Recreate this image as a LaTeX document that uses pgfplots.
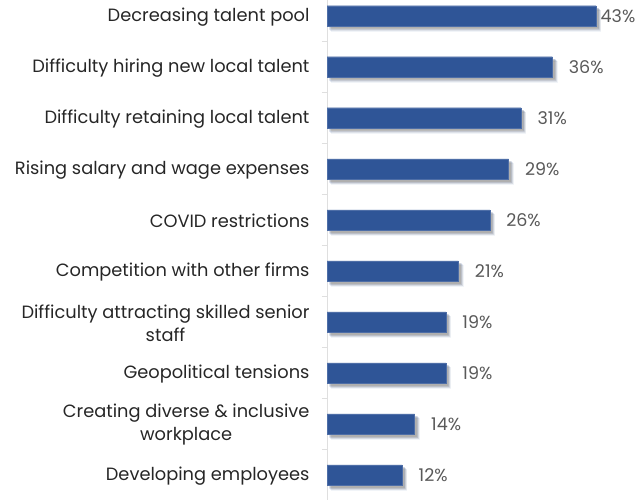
\documentclass[border=0pt]{standalone}
\usepackage{pgfplots}
\pgfplotsset{compat=1.18}
\usepackage{pgfplotstable}
\usepackage{fontspec}
\setmainfont{Poppins}
\usetikzlibrary{shadows}
\definecolor{barblue}{RGB}{47,85,151}
\definecolor{lbl}{RGB}{38,38,38}
\definecolor{vlbl}{RGB}{89,89,89}
\pgfplotstableread{
y val dx
1 43 1
2 36 13
3 31 13
4 29 13
5 26 13
6 21 13
7 19 13
8 19 13
9 14 13
10 12 13
}\datatab
\begin{document}
\begin{tikzpicture}
\useasboundingbox (0pt,0pt) rectangle (640pt,500pt);
\begin{axis}[
  at={(327pt,-0.5pt)}, anchor=south west,
  scale only axis, width=313pt, height=510pt,
  xbar, bar width=20.5pt,
  xmin=0, xmax=50, ymin=0.5, ymax=10.5, y dir=reverse,
  hide x axis,
  axis y line*=left,
  axis line style={-, draw=gray!25, line width=1pt},
  ytick={1,...,10},
  yticklabels={Decreasing talent pool, Difficulty hiring new local talent, Difficulty retaining local talent, Rising salary and wage expenses, COVID restrictions, Competition with other firms, {Difficulty attracting skilled senior\\staff}, Geopolitical tensions, {Creating diverse \& inclusive\\workplace}, Developing employees},
  major tick length=0pt,
  minor ytick={0.5,1.5,...,10.5},
  minor tick length=5pt,
  tick align=outside,
  minor tick style={draw=gray!25, line width=1pt},
  yticklabel style={align=center, font=\fontsize{17.8}{23}\selectfont, text=lbl, xshift=-14pt, yshift=-1pt},
  /pgf/number format/assume math mode=true,
  nodes near coords={\pgfmathprintnumber{\pgfplotspointmeta}\%},
  point meta=explicit,
  visualization depends on={\thisrow{dx} \as \dx},
  nodes near coords style={font=\fontsize{17.5}{20}\selectfont, text=vlbl, anchor=west, xshift=\dx pt},
  clip=false,
]
\addplot[fill=barblue, draw=barblue!85!white,
  drop shadow={shadow xshift=4.5pt, shadow yshift=-4.5pt, fill=black, opacity=0.08},
  drop shadow={shadow xshift=3.5pt, shadow yshift=-3.5pt, fill=black, opacity=0.12},
  drop shadow={shadow xshift=2.5pt, shadow yshift=-2.5pt, fill=black, opacity=0.15}] table[x=val, y=y, meta=val] {\datatab};
\end{axis}
\end{tikzpicture}
\end{document}
